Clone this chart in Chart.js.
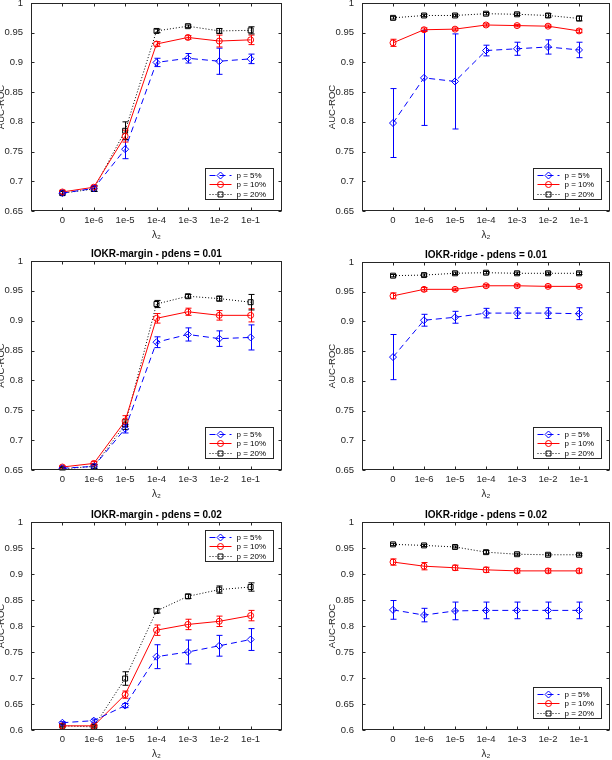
<!DOCTYPE html>
<html>
<head>
<meta charset="utf-8">
<script src="https://cdn.jsdelivr.net/npm/chart.js@4.4.1/dist/chart.umd.min.js"></script>
<style>
  html, body { margin: 0; padding: 0; background: #fff; }
  body { width: 612px; height: 760px; position: relative; overflow: hidden; }
  canvas { position: absolute; }
</style>
</head>
<body>
<canvas id="c1"></canvas>
<canvas id="c2"></canvas>
<canvas id="c3"></canvas>
<canvas id="c4"></canvas>
<canvas id="c5"></canvas>
<canvas id="c6"></canvas>
<script>
// lambda_2 values on the x axis
const xLabels = ['0', '1e-6', '1e-5', '1e-4', '1e-3', '1e-2', '1e-1'];
const seriesNames = ['p = 5%', 'p = 10%', 'p = 20%'];
const yTicksHigh = [0.65, 0.7, 0.75, 0.8, 0.85, 0.9, 0.95, 1];
const yTicksLow = [0.6, 0.65, 0.7, 0.75, 0.8, 0.85, 0.9, 0.95, 1];

// IOKR-margin, top row
const marginTop_p5 = [0.680, 0.688, 0.754, 0.900, 0.907, 0.902, 0.906];
const marginTop_p5err = [0.003, 0.005, 0.016, 0.007, 0.008, 0.022, 0.008];
const marginTop_p10 = [0.682, 0.690, 0.776, 0.931, 0.942, 0.936, 0.938];
const marginTop_p10err = [0.003, 0.003, 0.010, 0.004, 0.003, 0.010, 0.008];
const marginTop_p20 = [0.680, 0.687, 0.785, 0.953, 0.961, 0.953, 0.954];
const marginTop_p20err = [0.003, 0.004, 0.015, 0.003, 0.002, 0.004, 0.006];

// IOKR-ridge, top row
const ridgeTop_p5 = [0.798, 0.874, 0.868, 0.920, 0.923, 0.926, 0.921];
const ridgeTop_p5err = [0.058, 0.080, 0.080, 0.009, 0.011, 0.012, 0.013];
const ridgeTop_p10 = [0.933, 0.955, 0.956, 0.963, 0.962, 0.961, 0.953];
const ridgeTop_p10err = [0.006, 0.003, 0.002, 0.002, 0.002, 0.002, 0.003];
const ridgeTop_p20 = [0.975, 0.979, 0.979, 0.982, 0.981, 0.979, 0.974];
const ridgeTop_p20err = [0.002, 0.002, 0.002, 0.002, 0.002, 0.003, 0.004];

// IOKR-margin - pdens = 0.01
const margin01_p5 = [0.653, 0.656, 0.719, 0.864, 0.877, 0.870, 0.872];
const margin01_p5err = [0.002, 0.003, 0.007, 0.009, 0.011, 0.013, 0.021];
const margin01_p10 = [0.655, 0.661, 0.732, 0.904, 0.915, 0.909, 0.909];
const margin01_p10err = [0.002, 0.003, 0.009, 0.008, 0.006, 0.008, 0.011];
const margin01_p20 = [0.652, 0.656, 0.726, 0.928, 0.941, 0.937, 0.931];
const margin01_p20err = [0.002, 0.003, 0.008, 0.006, 0.003, 0.004, 0.013];

// IOKR-ridge - pdens = 0.01
const ridge01_p5 = [0.840, 0.902, 0.907, 0.914, 0.914, 0.914, 0.913];
const ridge01_p5err = [0.038, 0.010, 0.010, 0.008, 0.009, 0.009, 0.010];
const ridge01_p10 = [0.943, 0.954, 0.954, 0.960, 0.960, 0.959, 0.959];
const ridge01_p10err = [0.005, 0.003, 0.002, 0.002, 0.002, 0.002, 0.002];
const ridge01_p20 = [0.977, 0.978, 0.981, 0.982, 0.981, 0.981, 0.981];
const ridge01_p20err = [0.002, 0.002, 0.002, 0.002, 0.002, 0.002, 0.002];

// IOKR-margin - pdens = 0.02
const margin02_p5 = [0.614, 0.618, 0.647, 0.741, 0.750, 0.762, 0.774];
const margin02_p5err = [0.002, 0.003, 0.004, 0.023, 0.023, 0.020, 0.021];
const margin02_p10 = [0.608, 0.608, 0.668, 0.792, 0.803, 0.809, 0.820];
const margin02_p10err = [0.002, 0.002, 0.007, 0.010, 0.010, 0.010, 0.010];
const margin02_p20 = [0.608, 0.606, 0.699, 0.829, 0.857, 0.870, 0.875];
const margin02_p20err = [0.002, 0.002, 0.013, 0.004, 0.004, 0.007, 0.008];

// IOKR-ridge - pdens = 0.02
const ridge02_p5 = [0.831, 0.821, 0.829, 0.830, 0.830, 0.830, 0.830];
const ridge02_p5err = [0.018, 0.013, 0.017, 0.016, 0.016, 0.016, 0.016];
const ridge02_p10 = [0.923, 0.915, 0.912, 0.908, 0.906, 0.906, 0.906];
const ridge02_p10err = [0.006, 0.007, 0.005, 0.005, 0.004, 0.004, 0.004];
const ridge02_p20 = [0.957, 0.955, 0.952, 0.942, 0.938, 0.937, 0.937];
const ridge02_p20err = [0.002, 0.002, 0.002, 0.003, 0.002, 0.002, 0.002];

const FONT = '"Liberation Sans", Arial, Helvetica, sans-serif';
const INK = '#262626';
const colors = ['#0000ff', '#ff0000', '#000000'];
const pointStyles = ['rectRot', 'circle', 'rect'];
const pointRadii = [3.5, 3, 3.5];
const dashes = [[6, 4], [], [1, 2]];

Chart.defaults.font.family = FONT;

function drawMarker(ctx, k, x, y) {
    Chart.helpers.drawPoint(ctx, {
        pointStyle: pointStyles[k], radius: pointRadii[k], borderWidth: 1
    }, x, y);
}

// box, inward ticks, error bars, title and legend the way matlab draws them
const matlabAxes = {
    id: 'matlabAxes',
    beforeDatasetsDraw(chart) {
        const { ctx, scales: { x, y } } = chart;
        chart.data.datasets.forEach(ds => {
            ctx.save();
            ctx.strokeStyle = ds.borderColor;
            ctx.lineWidth = 1;
            ds.data.forEach((p, i) => {
                const e = ds.errors[i];
                const px = Math.round(x.getPixelForValue(p.x)) + 0.5;
                const y1 = y.getPixelForValue(p.y - e);
                const y2 = y.getPixelForValue(p.y + e);
                ctx.beginPath();
                ctx.moveTo(px, y1); ctx.lineTo(px, y2);
                ctx.moveTo(px - 3, y1); ctx.lineTo(px + 3, y1);
                ctx.moveTo(px - 3, y2); ctx.lineTo(px + 3, y2);
                ctx.stroke();
            });
            ctx.restore();
        });
    },
    afterDraw(chart, args, opts) {
        const { ctx, chartArea: a, scales: { x, y } } = chart;
        const L = Math.round(a.left) + 0.5, R = Math.round(a.right) - 0.5;
        const T = Math.round(a.top) + 0.5, B = Math.round(a.bottom) - 0.5;
        ctx.save();
        ctx.strokeStyle = INK;
        ctx.lineWidth = 1;
        ctx.strokeRect(L, T, R - L, B - T);
        ctx.beginPath();
        x.ticks.forEach(t => {
            const px = Math.round(x.getPixelForValue(t.value)) + 0.5;
            ctx.moveTo(px, B); ctx.lineTo(px, B - 3);
            ctx.moveTo(px, T); ctx.lineTo(px, T + 3);
        });
        y.ticks.forEach(t => {
            const py = Math.round(y.getPixelForValue(t.value)) + 0.5;
            ctx.moveTo(L, py); ctx.lineTo(L + 3, py);
            ctx.moveTo(R, py); ctx.lineTo(R - 3, py);
        });
        ctx.stroke();

        if (opts.title) {
            ctx.fillStyle = '#000';
            ctx.font = 'bold 10px ' + FONT;
            ctx.textAlign = 'center';
            ctx.textBaseline = 'middle';
            ctx.fillText(opts.title, (L + R) / 2, T - 7);
        }

        // legend box
        const w = 68, h = 31;
        const lx = Math.round(R - 9 - w) + 0.5;
        const ly = opts.legend === 'ne' ? Math.round(T + 7) + 0.5 : Math.round(B - 12 - h) + 0.5;
        ctx.fillStyle = '#fff';
        ctx.fillRect(lx, ly, w, h);
        ctx.strokeStyle = INK;
        ctx.strokeRect(lx, ly, w, h);
        ctx.font = '8px ' + FONT;
        ctx.textAlign = 'left';
        ctx.textBaseline = 'middle';
        chart.data.datasets.forEach((ds, k) => {
            const ry = Math.round(ly + 6 + k * 9.5) + 0.5;
            ctx.strokeStyle = colors[k];
            ctx.setLineDash(dashes[k]);
            ctx.beginPath();
            ctx.moveTo(lx + 4, ry); ctx.lineTo(lx + 26, ry);
            ctx.stroke();
            ctx.setLineDash([]);
            ctx.fillStyle = 'rgba(0,0,0,0)';
            drawMarker(ctx, k, lx + 15, ry);
            ctx.fillStyle = '#000';
            ctx.fillText(ds.label, lx + 31, ry);
        });
        ctx.restore();
    }
};

function makePanel(p) {
    const [L, T, R, B] = p.area;
    const padTop = 14, padRight = 4, yW = 60, xH = 42;
    const cv = document.getElementById(p.id);
    cv.width = (R - L) + yW + padRight;
    cv.height = padTop + (B - T) + xH;
    cv.style.left = (L - yW) + 'px';
    cv.style.top = (T - padTop) + 'px';

    new Chart(cv, {
        type: 'line',
        data: {
            datasets: p.series.map((ys, k) => ({
                label: seriesNames[k],
                data: ys.map((v, i) => ({ x: i, y: v })),
                errors: p.errors[k],
                borderColor: colors[k],
                borderWidth: 1,
                borderDash: dashes[k],
                pointStyle: pointStyles[k],
                pointRadius: pointRadii[k],
                pointBorderColor: colors[k],
                pointBackgroundColor: 'rgba(0,0,0,0)',
                pointBorderWidth: 1,
                tension: 0,
                fill: false
            }))
        },
        options: {
            responsive: false,
            animation: false,
            devicePixelRatio: 1,
            layout: { padding: { top: padTop, right: padRight, left: 0, bottom: 0 } },
            plugins: {
                legend: { display: false },
                tooltip: { enabled: false },
                matlabAxes: { title: p.title, legend: p.legend }
            },
            scales: {
                x: {
                    type: 'linear',
                    min: -1,
                    max: 7,
                    afterBuildTicks: s => { s.ticks = xLabels.map((_, i) => ({ value: i })); },
                    afterFit: s => { s.height = xH; },
                    grid: { display: false, drawTicks: false },
                    border: { display: false },
                    ticks: {
                        color: INK, font: { size: 9.5 }, padding: 4,
                        maxRotation: 0, autoSkip: false,
                        callback: v => xLabels[v]
                    },
                    title: {
                        display: true, text: 'λ₂', color: INK,
                        font: { size: 10 }, padding: { top: 0, bottom: 12 }
                    }
                },
                y: {
                    min: p.yTicks[0],
                    max: p.yTicks[p.yTicks.length - 1],
                    afterBuildTicks: s => { s.ticks = p.yTicks.map(v => ({ value: v })); },
                    afterFit: s => { s.width = yW; },
                    grid: { display: false, drawTicks: false },
                    border: { display: false },
                    ticks: {
                        color: INK, font: { size: 9.5 }, padding: 8,
                        callback: v => String(+v.toFixed(2))
                    },
                    title: {
                        display: true, text: 'AUC-ROC', color: INK,
                        font: { size: 9.5 }, padding: { top: 25, bottom: 0 }
                    }
                }
            }
        },
        plugins: [matlabAxes]
    });
}

const panels = [
    { id: 'c1', area: [31, 3, 283, 211], title: null, legend: 'se', yTicks: yTicksHigh,
      series: [marginTop_p5, marginTop_p10, marginTop_p20],
      errors: [marginTop_p5err, marginTop_p10err, marginTop_p20err] },
    { id: 'c2', area: [362, 3, 611, 211], title: null, legend: 'se', yTicks: yTicksHigh,
      series: [ridgeTop_p5, ridgeTop_p10, ridgeTop_p20],
      errors: [ridgeTop_p5err, ridgeTop_p10err, ridgeTop_p20err] },
    { id: 'c3', area: [31, 261, 283, 470], title: 'IOKR-margin - pdens = 0.01', legend: 'se', yTicks: yTicksHigh,
      series: [margin01_p5, margin01_p10, margin01_p20],
      errors: [margin01_p5err, margin01_p10err, margin01_p20err] },
    { id: 'c4', area: [362, 262, 611, 470], title: 'IOKR-ridge - pdens = 0.01', legend: 'se', yTicks: yTicksHigh,
      series: [ridge01_p5, ridge01_p10, ridge01_p20],
      errors: [ridge01_p5err, ridge01_p10err, ridge01_p20err] },
    { id: 'c5', area: [31, 522, 283, 730], title: 'IOKR-margin - pdens = 0.02', legend: 'ne', yTicks: yTicksLow,
      series: [margin02_p5, margin02_p10, margin02_p20],
      errors: [margin02_p5err, margin02_p10err, margin02_p20err] },
    { id: 'c6', area: [362, 522, 611, 730], title: 'IOKR-ridge - pdens = 0.02', legend: 'se', yTicks: yTicksLow,
      series: [ridge02_p5, ridge02_p10, ridge02_p20],
      errors: [ridge02_p5err, ridge02_p10err, ridge02_p20err] }
];

panels.forEach(makePanel);
</script>
</body>
</html>
